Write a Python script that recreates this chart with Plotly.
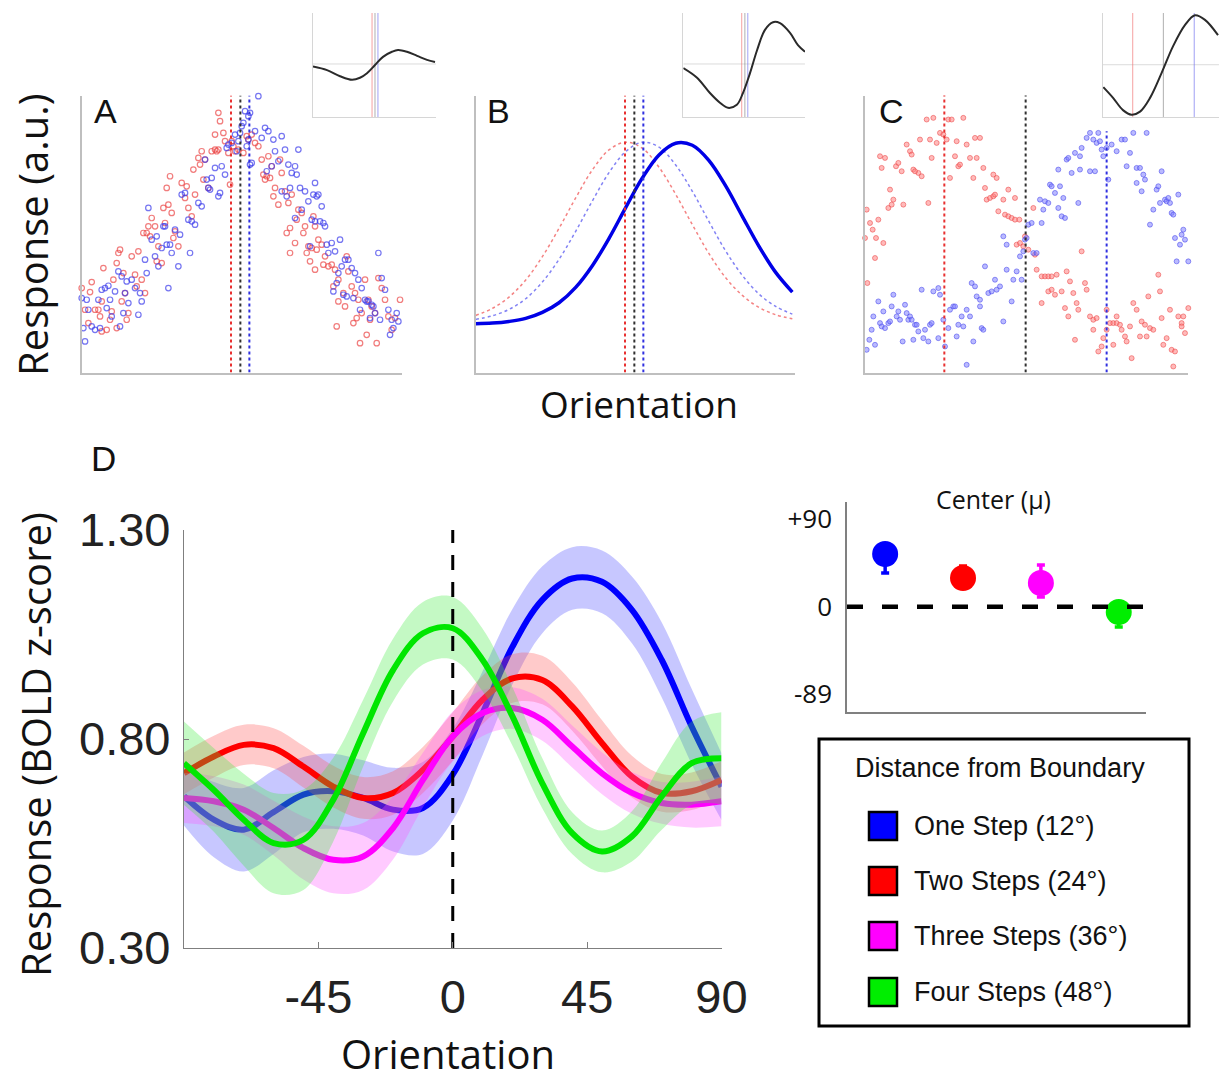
import plotly.graph_objects as go

W, H = 1219, 1080
def px(x): return x / W
def py(y): return 1 - y / H

# ---------------- Panel A : noisy tuning (open circles) ----------------
a_red = [(0,25.3),(3,27.1),(2.5,24.1),(1,18.8),(2,14.8),(4,18.8),
(5,18.8),(6,21.3),(6.5,31.3),(6,12.3),(7.5,12.8),(8.5,15.8),(9,18.3),(5.5,16.8),
(9.5,27.8),(10.5,32.8),(11,35.8),(11.5,36.8),(12.5,29.8),(13,23.8),(12,21.3),(14,17.8),(10.5,13.3),(13.5,15.8),
(15,34.8),(17,36.3),(16,29.3),(18,27.8),(16.5,25.8),(19,23.8),(18.5,41.8),(19.5,41.8),
(20,43.8),(21,46.3),(22,43.8),(20.5,40.8),(23,37.8),(22.5,33.3),(24,32.8),(24.5,49.3),
(25.5,55.3),(26,50.3),(27,47.8),(25,44.8),(28,42.3),(27.5,40.3),(29,37.8),(26.5,58.8),
(30,56.8),(31,52.3),(32,49.3),(33,46.8),(34,53.3),(33.5,60.8),(31.5,55.8),
(35,64.3),(36,66.3),(35.5,62.3),(37,63.8),(36.5,57.8),(38,55.3),(39,66.3),(40,66.8),
(40,71.3),(40.5,66.3),(41,66.8),(41,77.8),(41.5,75.3),(42.5,71.8),(43,69.3),(44,65.8),(44.5,56.3),
(45,69.3),(45.5,67.8),(46,66.3),(47,66.8),(48.5,65.8),(49.5,70.8),
(50,69.8),(51,71.3),(52,68.8),(54,63.8),(54.5,59.3),(55.5,58.8),(53,67.8),
(56,64.8),(57,61.8),(56.5,58.3),(58,55.3),(57.5,52.8),(59,50.3),(59.5,63.8),(55,57.8),
(60,59.8),(61,54.3),(62,50.8),(63,53.3),(62.5,43.3),(61.5,41.8),(64,38.8),(62.5,35.8),(64.5,45.8),
(65,48.8),(66,47.8),(67,43.8),(66.5,41.8),(68,37.8),(69,37.3),(68.5,33.3),(67.5,35.8),(69.5,46.8),
(70,43.8),(71,39.8),(72,38.3),(70.5,36.8),(73,34.8),(74,31.8),(70,30.8),(72.5,32.3),
(75,32.3),(76,30.8),(77,27.8),(75.5,25.8),(78.5,23.8),(77,21.3),(79,19.8),(76.5,13.8),
(80,30.3),(81,25.8),(82,23.8),(83,21.8),(84,17.8),(82.5,16.3),(81.5,14.8),(83.5,8.8),(79.5,34.8),
(85,27.8),(86,21.8),(87,19.8),(88,17.8),(86.5,15.8),(85.5,11.3),(88.5,8.8),
(89,28.3),(90,25.3),(91,21.8),(92,16.8),(94,16.3),(93,12.8),(95.5,21.8)]

a_blue = [(0,22.3),(1.5,21.8),(2,18.8),(0.5,13.3),(1,9.3),(3,13.8),(4,12.8),
(6,24.8),(7,25.3),(8,26.0),(5,21.8),(7.5,19.3),(9,16.8),(8.5,21.8),(5.5,13.3),
(11,30.3),(12,28.8),(10,24.3),(13,23.8),(14,20.8),(13.5,27.3),(12.5,17.8),(11.5,13.8),
(15,27.8),(16,25.3),(17.5,23.8),(18,21.3),(19,33.8),(19.5,29.8),(17,17.3),
(20,49.3),(21,39.8),(22,34.8),(23,31.8),(24,37.3),(22.5,40.8),(24.5,43.8),
(25,43.8),(25.5,38.3),(26.5,38.3),(27,35.8),(29,31.8),(26,25.3),(28,42.8),(29.5,41.3),
(30,53.3),(31,53.8),(32,45.8),(33,45.3),(34,44.3),(35,50.8),(36,49.8),(32.5,35.8),
(37,63.8),(37.5,57.8),(38,55.3),(38.5,54.8),(41,52.8),(39,58.3),(40,61.3),
(43,59.3),(42,61.8),(43.5,67.3),(44,68.3),(41.5,53.8),(46,71.3),(45,68.8),(47,69.3),
(47.5,71.8),(48,73.8),(48.5,74.8),(49,78.3),(50,69.8),(49.5,67.8),(46.5,66.3),
(50.5,77.8),(53,82.8),(50,76.8),(50.5,62.3),(52,72.3),(54,70.3),(51,62.8),
(55,73.3),(56,72.3),(57.5,69.8),(58,66.3),(59,63.3),(57,61.8),(55.5,60.3),(60,54.3),
(60,70.8),(61,66.8),(62,62.3),(63,59.8),(64,61.8),(62.5,55.3),(61.5,52.8),(64.5,59.3),(64,46.3),
(65,66.8),(65.5,55.3),(67,54.3),(68,51.3),(69,45.8),(68.5,37.8),(66,48.8),(70,45.3),(69.5,53.3),
(70,56.8),(71,53.3),(72,49.8),(71.5,45.3),(72.5,44.8),(73,43.8),(73.5,38.3),(74,35.8),(70.5,52.8),
(75,38.8),(76,36.3),(78,31.8),(77,29.8),(79,33.8),(76.5,26.8),(78.5,23.3),(75.5,24.3),(77.5,39.8),
(80,33.8),(81,31.3),(82,29.8),(83,27.8),(84,25.3),(85,21.8),(81.5,22.3),(83.5,18.8),(79.5,22.8),
(86,21.3),(87,20.3),(88,17.8),(86.5,16.3),(87.5,19.8),(89,35.8),(89.5,15.8),(85.5,21.3),
(90,28.3),(91,24.8),(92,18.8),(94.5,17.8),(93,15.8),(93.5,13.3),(95,15.3),(92.5,11.3)]

a_vlines = [44.8, 47.6, 50.3]          # red, black, blue estimates
abc_top = 83.0

# ---------------- Panel B : model tuning curves ----------------
b_x = [0,5,10,15,20,25,30,35,40,45,50,55,60,65,70,75,80,85,90,95]
b_red_dot = [17.1,19.2,22.6,27.7,34.7,43.2,52.3,60.7,66.7,69.0,67.2,61.5,53.4,44.3,35.6,28.4,23.1,19.5,17.3,16.1]
b_blue_dot = [15.9,17.0,18.9,22.1,27.1,33.9,42.3,51.4,59.9,66.2,69.0,67.5,62.2,54.3,45.2,36.4,29.1,23.5,19.8,17.5]
b_blue = [14.6,14.8,15.3,16.2,18.0,20.9,25.5,32.0,40.2,49.4,58.3,65.2,68.7,68.1,63.5,55.9,46.8,37.8,30.0,24.1]
b_vlines = [44.8, 47.6, 50.3]

# ---------------- Panel C : two populations (filled dots) ----------------
c_red = [(0.5,48.8),(1.5,44.8),(2.3,42.8),(3.3,40.3),(5.5,38.8),(4,45.8),(3,34.3),(0.7,26.8),(0,40.3),
(4.5,64.8),(6,64.3),(5,61.3),(7,49.3),(8,50.3),(8.5,51.8),(7.5,54.8),
(9.3,61.8),(10,62.8),(11,60.3),(11.5,50.3),(12.5,68.3),(13.5,66.3),(14.5,60.8),(16,59.8),(17,58.8),
(16.5,69.8),(18.5,75.8),(19,50.8),(19.5,69.8),(20,64.3),(20.5,76.3),(15,60.3),(14,65.3),
(21.5,68.8),(22.5,71.8),(23.5,71.3),(24.5,69.8),(25,75.8),(26,75.8),(27,64.8),(27.5,69.3),(28,61.8),
(28.5,62.3),(29.5,76.3),(30.5,68.3),(31.5,64.3),(33,70.3),(33.5,64.3),(34.5,70.3),(32.5,58.3),(25.5,58.3),
(35.5,61.3),(36,55.3),(36.5,51.8),(37.5,52.3),(38.5,52.8),(39,53.3),(38.5,59.3),(39.5,58.3),(41.5,51.8),
(43,54.8),(45,52.3),(40,48.3),(42,47.3),(43,46.8),(44,46.3),(45,45.8),(45.5,38.3),(46.5,38.8),(47.5,37.8),
(46.3,45.8),(48,40.8),
(49,36.8),(50.5,49.3),(51,35.3),(51.5,30.8),(53,28.8),(54,28.8),(55,28.8),(56,28.8),(57.5,29.3),(55,24.3),
(56,24.8),(57,23.3),(53,20.8),(59,24.3),(60.5,30.3),(61.5,27.3),(60,19.3),(61,16.8),(62.5,23.8),(63.5,20.8),
(63,9.8),(65,36.3),(64,18.8),
(66,26.8),(66.5,24.8),(67.5,16.8),(68.5,15.8),(69.5,16.3),(70,6.3),(68.5,12.8),(72.5,18.8),(72.5,12.8),
(73.5,14.8),(74.5,14.8),(75.5,14.8),(76.5,14.3),(75.5,16.8),(77,12.8),(78,10.8),(78.5,9.3),(71,7.8),
(71.5,10.3),(74.5,8.3),
(79.5,13.8),(80,4.3),(80.5,20.8),(81.5,18.8),(82.5,10.8),(83,15.3),(84,14.3),(84.5,10.8),(85.5,13.3),
(86.5,12.8),(85,22.8),(88,29.3),(88.5,24.3),(89,16.3),(89.5,8.3),(90.5,10.3),(91.5,18.8),(92,6.8),
(92.5,1.8),(93,6.3),(94,16.8),(95,14.8),(96,11.8),(97,19.3),(95,13.8),(95.5,16.8)]

c_blue = [(0.5,6.8),(1.3,9.8),(2,12.8),(3,8.3),(2.5,16.8),(4,21.3),(4.5,14.8),(5,13.8),(6,13.3),(5.5,18.3),
(7,14.8),(7.5,15.3),(8,19.8),(8.5,23.3),(9.5,16.8),(10,18.3),(10.5,15.8),(11.3,9.3),(12,20.3),(12.5,17.8),
(13,15.8),(13.5,16.8),(14,15.8),(14.5,9.8),(15,14.3),(15.5,14.3),(16,12.3),(17,24.8),(17.5,10.3),(18,12.8),
(19,9.3),(19.5,14.3),(20,14.8),
(20.5,24.3),(22,25.3),(22.5,23.3),(22,10.3),(23.5,15.8),(24,7.8),(25,13.3),(25.5,18.8),(26.5,19.8),
(27,19.8),(27.5,10.8),(28,14.3),(29,16.8),(29.5,13.8),(30.5,18.8),(31.5,16.8),(32,26.8),(33,25.8),
(33.5,22.8),(34.5,21.8),(35,13.3),(35.5,12.8),(36,31.8),(37,23.8),(38,24.3),(39,27.8),(39.5,24.8),
(30.5,2.3),(32.5,9.3),(34.5,19.8),
(40.5,25.8),(41.5,15.3),(42.5,30.8),(44,21.3),(44.5,27.8),(45.5,30.3),(46.5,34.8),(47,27.8),(47.5,36.3),
(42.5,38.3),(41.5,40.8),(48,39.8),(48.5,40.3),(49,44.3),(50,44.8),(50.5,35.8),(51.5,35.8),(53,44.8),
(53.5,48.8),(52.5,51.8),(54,51.3),(55,50.8),(55.5,56.3),(56,55.8),(57,53.8),
(58,49.3),(59,46.8),(59.5,52.3),(60,46.3),(60.5,63.8),(61,64.3),(62,59.8),(63,65.8),(64,50.8),(64.5,64.8),
(65,67.3),(66.5,70.3),(67.5,71.8),(68.5,69.8),(69.5,68.8),(70.5,69.3),(70,71.8),(71,66.8),(71.5,64.8),
(72.5,67.3),(73,57.8),(69,60.3),(67.5,60.3),(64.5,60.8),(58.5,55.8),(58,60.8),
(74,68.3),(75.5,66.3),(77,69.8),(78,69.8),(79.5,65.8),(78.5,61.8),(80.5,71.8),(81.5,61.3),(82.5,61.3),
(83.5,59.3),(81.5,56.8),(83,54.3),(84,57.8),(84.5,71.8),(85.5,44.3),(86.5,48.8),(87.5,54.8),(88,55.8),
(88.5,50.8),(89,60.3),(90,51.8),(90.5,51.3),(91,52.3),(91.5,50.8),(92,47.8),(92.5,47.3),(93,40.3),
(94,53.3),(94.5,38.3),(95,41.3),(95.5,42.8),(96,39.8),(93.5,33.3),(97,33.3)]

c_vlines = [23.8, 48.2, 72.5]
c_vline_tops = [83.8, 83.8, 72.3]

# ---------------- Insets (derivative-like curves) ----------------
ia_x = [0,11.4,22,31.7,38.2,43.9,50.4,56.9,64.2,69.1,76.4,84.6,92.7,99.2]
ia_y = [-0.05,-0.12,-0.24,-0.31,-0.27,-0.18,-0.02,0.14,0.24,0.275,0.24,0.16,0.08,0.04]
ia_v = [48.0, 50.4, 52.8]
ib_x = [0,11.3,21.9,30.1,36.7,44,49,54.8,60.6,67.1,73.7,79.5,87.7,94.2,100]
ib_y = [-0.08,-0.27,-0.57,-0.76,-0.86,-0.80,-0.57,-0.18,0.27,0.67,0.82,0.80,0.61,0.37,0.24]
ib_v = [48.0, 50.6, 53.0]
ic_x = [0.5,8.5,16.6,23.7,30.6,38.8,48.3,57.6,67.5,75.6,83.8,94.5]
ic_y = [-0.44,-0.65,-0.89,-0.98,-0.92,-0.65,-0.16,0.36,0.78,0.97,0.88,0.58]
ic_v = [24.6, 49.7, 75.0]

# ---------------- Panel D : BOLD tuning curves ----------------
orient = [-90,-80,-70,-60,-50,-40,-30,-20,-10,0,10,20,30,40,50,60,70,80,90]
series = ["One Step (12°)", "Two Steps (24°)", "Three Steps (36°)", "Four Steps (48°)"]
blue_mean = [0.663,0.607,0.583,0.625,0.667,0.675,0.659,0.631,0.635,0.715,0.862,1.021,1.133,1.184,1.176,1.109,0.989,0.830,0.686]
blue_err = [0.07,0.09,0.10,0.10,0.09,0.09,0.09,0.10,0.11,0.11,0.10,0.09,0.08,0.075,0.075,0.08,0.09,0.09,0.08]
red_mean = [0.718,0.758,0.786,0.778,0.734,0.686,0.659,0.671,0.726,0.806,0.894,0.945,0.941,0.878,0.790,0.710,0.671,0.675,0.702]
red_err = [0.05,0.05,0.048,0.048,0.05,0.05,0.05,0.052,0.055,0.058,0.058,0.058,0.058,0.058,0.055,0.05,0.045,0.045,0.045]
mag_mean = [0.659,0.651,0.631,0.587,0.539,0.511,0.519,0.587,0.702,0.806,0.862,0.874,0.846,0.782,0.718,0.671,0.647,0.643,0.651]
mag_err = [0.06,0.06,0.06,0.065,0.075,0.08,0.08,0.075,0.065,0.06,0.055,0.05,0.05,0.05,0.05,0.05,0.05,0.055,0.06]
green_mean = [0.742,0.678,0.607,0.551,0.559,0.655,0.814,0.965,1.053,1.065,0.989,0.854,0.694,0.575,0.531,0.567,0.663,0.742,0.754]
green_err = [0.10,0.10,0.11,0.12,0.12,0.10,0.08,0.075,0.075,0.075,0.075,0.07,0.06,0.05,0.05,0.06,0.08,0.10,0.11]
d_yticks = [0.30, 0.80, 1.30]
d_ytext = ["0.30", "0.80", "1.30"]
d_xticks = [-45, 0, 45, 90]
d_xtext = ["-45", "0", "45", "90"]

# ---------------- Inset: Center (mu) ----------------
center_pos = [1, 2, 3, 4]
center_mu = [54.0, 29.4, 24.3, -5.4]
center_up = [4, 12.3, 18.5, 4]
center_dn = [19.5, 4, 14.3, 15.4]
center_ticks = [90, 0, -89]
center_ticktext = ["+90", "0", "-89"]

colors = ["#0000ff", "#ff0000", "#ff00ff", "#00e600"]
marker_colors = ["#0000ff", "#ff0000", "#ff00ff", "#00ee00"]
band_colors = ["rgba(70,70,255,0.30)", "rgba(255,80,80,0.30)", "rgba(255,80,255,0.30)", "rgba(60,235,60,0.30)"]

fig = go.Figure()

def xy(pairs):
    return [p[0] for p in pairs], [p[1] for p in pairs]

# --- A
for pts, col in [(a_red, "rgba(235,70,70,0.7)"), (a_blue, "rgba(60,60,235,0.7)")]:
    x, y = xy(pts)
    fig.add_trace(go.Scatter(x=x, y=y, mode="markers", xaxis="x", yaxis="y",
                             marker=dict(symbol="circle-open", size=5.5, color=col, line=dict(width=1.2)),
                             cliponaxis=False, hoverinfo="skip"))
for v, col in zip(a_vlines, ["#e83030", "#303030", "#3030e0"]):
    fig.add_trace(go.Scatter(x=[v, v], y=[0, abc_top], mode="lines", xaxis="x", yaxis="y",
                             line=dict(color=col, width=2, dash="dot"), hoverinfo="skip"))

# --- B
fig.add_trace(go.Scatter(x=b_x, y=b_red_dot, mode="lines", xaxis="x2", yaxis="y2",
                         line=dict(color="rgba(240,90,90,0.75)", width=1.5, shape="spline", dash="dot"), hoverinfo="skip"))
fig.add_trace(go.Scatter(x=b_x, y=b_blue_dot, mode="lines", xaxis="x2", yaxis="y2",
                         line=dict(color="rgba(90,90,240,0.75)", width=1.5, shape="spline", dash="dot"), hoverinfo="skip"))
fig.add_trace(go.Scatter(x=b_x, y=b_blue, mode="lines", xaxis="x2", yaxis="y2",
                         line=dict(color="#0000e6", width=3.5, shape="spline"), hoverinfo="skip"))
for v, col in zip(b_vlines, ["#e83030", "#303030", "#3030e0"]):
    fig.add_trace(go.Scatter(x=[v, v], y=[0, abc_top], mode="lines", xaxis="x2", yaxis="y2",
                             line=dict(color=col, width=2, dash="dot"), hoverinfo="skip"))

# --- C
for pts, fcol, lcol in [(c_red, "rgba(255,130,130,0.55)", "rgba(235,70,70,0.7)"),
                        (c_blue, "rgba(130,130,255,0.55)", "rgba(70,70,235,0.7)")]:
    x, y = xy(pts)
    fig.add_trace(go.Scatter(x=x, y=y, mode="markers", xaxis="x3", yaxis="y3",
                             marker=dict(symbol="circle", size=5, color=fcol, line=dict(width=0.8, color=lcol)),
                             cliponaxis=False, hoverinfo="skip"))
for v, t, col in zip(c_vlines, c_vline_tops, ["#e83030", "#303030", "#3030e0"]):
    fig.add_trace(go.Scatter(x=[v, v], y=[0, t], mode="lines", xaxis="x3", yaxis="y3",
                             line=dict(color=col, width=2, dash="dot"), hoverinfo="skip"))

# --- insets
for (xs, ys, vs, xa, ya, xr) in [(ia_x, ia_y, ia_v, "x4", "y4", 100), (ib_x, ib_y, ib_v, "x5", "y5", 100),
                                 (ic_x, ic_y, ic_v, "x6", "y6", 95.3)]:
    fig.add_trace(go.Scatter(x=[0, xr], y=[0, 0], mode="lines", xaxis=xa, yaxis=ya,
                             line=dict(color="#dcdcdc", width=1), hoverinfo="skip"))
    for v, col in zip(vs, ["rgba(240,120,120,0.7)", "rgba(120,120,120,0.6)", "rgba(120,120,240,0.7)"]):
        fig.add_trace(go.Scatter(x=[v, v], y=[-1.1, 1.1], mode="lines", xaxis=xa, yaxis=ya,
                                 line=dict(color=col, width=1), hoverinfo="skip"))
    fig.add_trace(go.Scatter(x=xs, y=ys, mode="lines", xaxis=xa, yaxis=ya,
                             line=dict(color="#2a2a2a", width=2, shape="spline"), hoverinfo="skip"))

# --- D
for name, m, e, c, bc in zip(series, [blue_mean, red_mean, mag_mean, green_mean],
                             [blue_err, red_err, mag_err, green_err], colors, band_colors):
    up = [a + b for a, b in zip(m, e)]
    lo = [a - b for a, b in zip(m, e)]
    fig.add_trace(go.Scatter(x=orient, y=up, mode="lines", xaxis="x7", yaxis="y7",
                             line=dict(width=0, shape="spline"), hoverinfo="skip"))
    fig.add_trace(go.Scatter(x=orient, y=lo, mode="lines", xaxis="x7", yaxis="y7", fill="tonexty",
                             fillcolor=bc, line=dict(width=0, shape="spline"), hoverinfo="skip"))
    fig.add_trace(go.Scatter(x=orient, y=m, mode="lines", name=name, xaxis="x7", yaxis="y7",
                             line=dict(color=c, width=6, shape="spline")))
fig.add_trace(go.Scatter(x=[0, 0], y=[d_yticks[0], d_yticks[-1]], mode="lines", xaxis="x7", yaxis="y7",
                         line=dict(color="black", width=3, dash="15px,12px"), hoverinfo="skip"))

# --- center inset
for i in range(4):
    fig.add_trace(go.Scatter(x=[center_pos[i]], y=[center_mu[i]], mode="markers", xaxis="x8", yaxis="y8",
                             marker=dict(size=26, color=marker_colors[i]),
                             error_y=dict(type="data", symmetric=False, array=[center_up[i]],
                                          arrayminus=[center_dn[i]], color=marker_colors[i],
                                          thickness=3.5, width=4),
                             hoverinfo="skip"))
fig.add_trace(go.Scatter(x=[0.51, 4.35], y=[0, 0], mode="lines", xaxis="x8", yaxis="y8",
                         line=dict(color="black", width=4.5, dash="16px,19px"), hoverinfo="skip"))

# ---------------- layout ----------------
def axis(domain, rng, anchor, lc="#bfbfbf", lw=1.5, **kw):
    d = dict(domain=domain, range=rng, anchor=anchor, showgrid=False, zeroline=False, automargin=False,
             showticklabels=False, ticks="", showline=True, linecolor=lc, linewidth=lw, fixedrange=True)
    d.update(kw)
    return d

top_dom = [py(372.5), py(95.5)]
inset_dom = [py(117), py(13)]
tick_font = dict(family="Liberation Sans, Arial, sans-serif", size=47, color="#222222")

fig.update_layout(
    width=W, height=H, margin=dict(l=0, r=0, t=0, b=0, pad=0), autosize=False,
    paper_bgcolor="white", plot_bgcolor="rgba(0,0,0,0)", showlegend=False,
    xaxis=axis([px(81.7), px(401.7)], [0, 96], "y"),
    yaxis=axis(top_dom, [0, abc_top], "x"),
    xaxis2=axis([px(475.7), px(795)], [0, 95.8], "y2"),
    yaxis2=axis(top_dom, [0, abc_top], "x2"),
    xaxis3=axis([px(865), px(1188.3)], [0, 97], "y3"),
    yaxis3=axis(top_dom, [0, abc_top], "x3"),
    xaxis4=axis([px(313), px(436)], [0, 100], "y4", lc="#d6d6d6", lw=1),
    yaxis4=axis(inset_dom, [-1.04, 1.0], "x4", lc="#d6d6d6", lw=1),
    xaxis5=axis([px(683.3), px(805)], [0, 100], "y5", lc="#d6d6d6", lw=1),
    yaxis5=axis(inset_dom, [-1.04, 1.0], "x5", lc="#d6d6d6", lw=1),
    xaxis6=axis([px(1102.7), 1.0], [0, 95.3], "y6", lc="#d6d6d6", lw=1),
    yaxis6=axis(inset_dom, [-1.025, 1.014], "x6", lc="#d6d6d6", lw=1),
    xaxis7=axis([px(184), px(721.5)], [-90, 90], "y7", lc="#7f7f7f", lw=1.2,
                showticklabels=True, tickvals=d_xticks, ticktext=d_xtext, ticks="inside", ticklen=6,
                tickcolor="#7f7f7f", tickfont=tick_font, ticklabelstandoff=7),
    yaxis7=axis([py(948), py(530)], [0.30, 1.30], "x7", lc="#7f7f7f", lw=1.2,
                showticklabels=True, tickvals=d_yticks, ticktext=d_ytext,
                ticks="inside", ticklen=5, tickcolor="#7f7f7f", tickfont=tick_font, ticklabelstandoff=3),
    xaxis8=axis([px(847), px(1146)], [0.51, 4.35], "y8", lc="#808080", lw=1.5),
    yaxis8=axis([py(712), py(502)], [-108, 107.4], "x8", lc="#808080", lw=1.5,
                showticklabels=True, tickvals=center_ticks, ticktext=center_ticktext, ticklabelstandoff=8,
                tickfont=dict(family="Open Sans, sans-serif", size=26, color="#111111")),
)

ann = []
def text(x, y, s, size, fam="Open Sans, sans-serif", angle=0, xanchor="center", color="#111111"):
    ann.append(dict(x=px(x), y=py(y), xref="paper", yref="paper", text=s, showarrow=False,
                    font=dict(family=fam, size=size, color=color), textangle=angle,
                    xanchor=xanchor, yanchor="middle"))

arial = "Liberation Sans, Arial, sans-serif"
text(105, 111, "A", 34, arial)
text(498, 111, "B", 34, arial)
text(891, 111, "C", 34, arial)
text(103, 458, "D", 35, arial)
text(33, 235, "Response (a.u.)", 40, angle=-90)
text(639, 403, "Orientation", 37)
text(35, 745, "Response (BOLD z-score)", 40, angle=-90)
text(448, 1053, "Orientation", 40)
text(993, 499, "Center (μ)", 25)

# legend box (drawn as shapes + text)
shapes = [dict(type="rect", xref="paper", yref="paper", x0=px(819), x1=px(1189), y0=py(1026), y1=py(739),
               line=dict(color="black", width=3), fillcolor="white", layer="below")]
text(1000, 768, "Distance from Boundary", 27, arial)
leg_y = [826, 881, 936, 992]
for name, c, yy in zip(series, marker_colors, leg_y):
    shapes.append(dict(type="rect", xref="paper", yref="paper", x0=px(869), x1=px(897), y0=py(yy + 14), y1=py(yy - 14),
                       line=dict(color="black", width=2.5), fillcolor=c))
    text(912, yy, name, 27, arial, xanchor="left")

fig.update_layout(annotations=ann, shapes=shapes)
fig.write_html("out.html")
